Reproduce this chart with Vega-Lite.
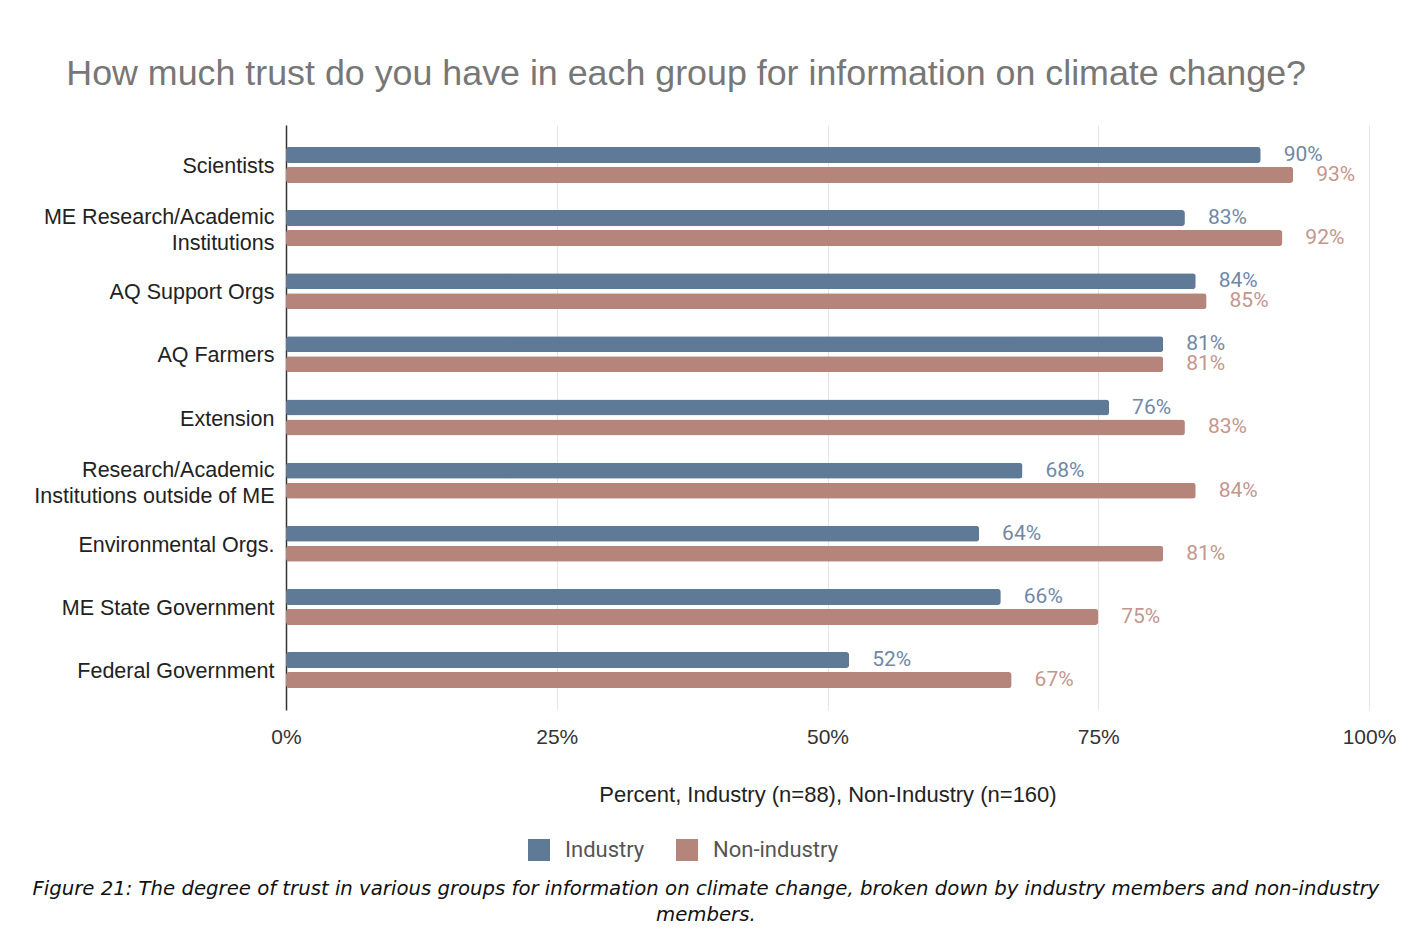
{
  "$schema": "https://vega.github.io/schema/vega-lite/v6.json",
  "background": "white",
  "padding": {"left": 32, "top": 56, "right": 0, "bottom": 0},
  "title": {
    "text": "How much trust do you have in each group for information on climate change?",
    "font": "Liberation Sans",
    "fontSize": 35.8,
    "fontWeight": "normal",
    "color": "#777777",
    "anchor": "middle",
    "frame": "bounds",
    "offset": 32,
    "dx": -28
  },
  "config": {"view": {"stroke": null}, "concat": {"spacing": 0}},
  "vconcat": [
    {
      "width": 1083,
      "height": 585,
      "title": {
        "text": ["Figure 21: The degree of trust in various groups for information on climate change, broken down by industry members and non-industry", "members."],
        "orient": "bottom",
        "font": "DejaVu Sans",
        "fontStyle": "italic",
        "fontWeight": "normal",
        "fontSize": 19.7,
        "lineHeight": 26,
        "color": "#111111",
        "anchor": "middle",
        "frame": "bounds",
        "offset": 74,
        "dx": -9
      },
      "data": {
        "values": [
          {"group": "Scientists", "series": "Industry", "value": 0.90},
          {"group": "Scientists", "series": "Non-industry", "value": 0.93},
          {"group": "ME Research/Academic|Institutions", "series": "Industry", "value": 0.83},
          {"group": "ME Research/Academic|Institutions", "series": "Non-industry", "value": 0.92},
          {"group": "AQ Support Orgs", "series": "Industry", "value": 0.84},
          {"group": "AQ Support Orgs", "series": "Non-industry", "value": 0.85},
          {"group": "AQ Farmers", "series": "Industry", "value": 0.81},
          {"group": "AQ Farmers", "series": "Non-industry", "value": 0.81},
          {"group": "Extension", "series": "Industry", "value": 0.76},
          {"group": "Extension", "series": "Non-industry", "value": 0.83},
          {"group": "Research/Academic|Institutions outside of ME", "series": "Industry", "value": 0.68},
          {"group": "Research/Academic|Institutions outside of ME", "series": "Non-industry", "value": 0.84},
          {"group": "Environmental Orgs.", "series": "Industry", "value": 0.64},
          {"group": "Environmental Orgs.", "series": "Non-industry", "value": 0.81},
          {"group": "ME State Government", "series": "Industry", "value": 0.66},
          {"group": "ME State Government", "series": "Non-industry", "value": 0.75},
          {"group": "Federal Government", "series": "Industry", "value": 0.52},
          {"group": "Federal Government", "series": "Non-industry", "value": 0.67}
        ]
      },
      "encoding": {
        "y": {
          "field": "group",
          "type": "nominal",
          "sort": ["Scientists", "ME Research/Academic|Institutions", "AQ Support Orgs", "AQ Farmers", "Extension", "Research/Academic|Institutions outside of ME", "Environmental Orgs.", "ME State Government", "Federal Government"],
          "scale": {"paddingInner": 0.43, "paddingOuter": 0.348},
          "axis": {
            "title": null,
            "labelExpr": "split(datum.label, '|')",
            "labelFont": "Liberation Sans",
            "labelFontSize": 21.5,
            "labelColor": "#222222",
            "labelLineHeight": 26,
            "labelPadding": 12,
            "labelLimit": 0,
            "labelOffset": {"condition": {"test": "indexof(datum.value, '|') >= 0", "value": -10}, "value": 2},
            "ticks": false,
            "domainColor": "#333333",
            "domainWidth": 1.5,
            "grid": false
          }
        },
        "yOffset": {
          "field": "series",
          "type": "nominal",
          "sort": ["Industry", "Non-industry"],
          "scale": {"paddingInner": 0.2, "paddingOuter": 0}
        },
        "x": {
          "field": "value",
          "type": "quantitative",
          "scale": {"domain": [0, 1], "nice": false},
          "axis": {
            "title": "Percent, Industry (n=88), Non-Industry (n=160)",
            "titleFont": "Liberation Sans",
            "titleFontSize": 22,
            "titleFontWeight": "normal",
            "titleColor": "#222222",
            "titlePadding": 37,
            "values": [0, 0.25, 0.5, 0.75, 1],
            "format": ".0%",
            "labelFont": "Liberation Sans",
            "labelFontSize": 21,
            "labelColor": "#333333",
            "labelPadding": 16,
            "labelFlush": false,
            "ticks": false,
            "domain": false,
            "grid": true,
            "gridColor": "#e6e6e6",
            "gridWidth": 1
          }
        }
      },
      "layer": [
        {
          "mark": {"type": "bar", "cornerRadius": 3},
          "encoding": {
            "color": {
              "field": "series",
              "type": "nominal",
              "sort": ["Industry", "Non-industry"],
              "scale": {"domain": ["Industry", "Non-industry"], "range": ["#5f7a97", "#b5847a"]},
              "legend": {
                "title": null,
                "orient": "none",
                "legendX": 242,
                "legendY": 714,
                "direction": "horizontal",
                "symbolType": "square",
                "symbolSize": 484,
                "symbolStrokeWidth": 0,
                "labelFont": "Roboto",
                "labelFontSize": 22,
                "labelColor": "#555555",
                "labelOffset": 15,
                "columnPadding": 31
              }
            }
          }
        },
        {
          "mark": {"type": "text", "align": "left", "baseline": "middle", "dx": 23, "font": "Roboto", "fontSize": 21},
          "encoding": {
            "text": {"field": "value", "type": "quantitative", "format": ".0%"},
            "color": {
              "condition": {"test": "datum.series === 'Industry'", "value": "#6f88a6"},
              "value": "#c4968d"
            }
          }
        }
      ]
    }
  ]
}
